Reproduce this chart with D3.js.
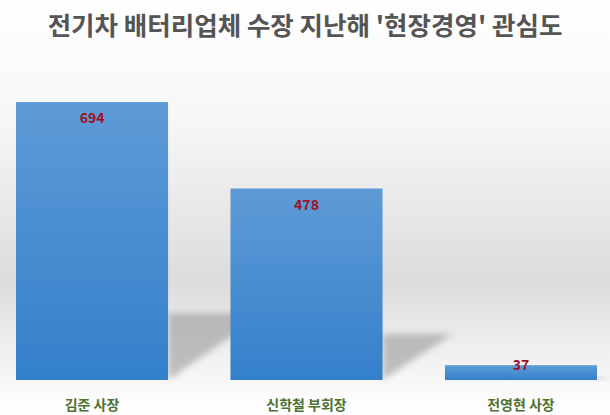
<!DOCTYPE html>
<html><head><meta charset="utf-8">
<script src="https://cdn.jsdelivr.net/npm/d3@7"></script>
<style>body{margin:0}svg{display:block}</style>
</head><body>
<svg width="610" height="415"></svg>
<script>
const title = "전기차 배터리업체 수장 지난해 '현장경영' 관심도";
const names = ["김준 사장", "신학철 부회장", "전영현 사장"];
const values = [694, 478, 37];

const width = 610, height = 415;
const base = 380;
const svg = d3.select("svg");
const defs = svg.append("defs");

// 배경 그라데이션
const bg = defs.append("linearGradient").attr("id", "bg").attr("x1", 0).attr("y1", 0).attr("x2", 0).attr("y2", 1);
bg.append("stop").attr("offset", "0%").attr("stop-color", "#ffffff");
bg.append("stop").attr("offset", "30%").attr("stop-color", "#f6f6f6");
bg.append("stop").attr("offset", "68%").attr("stop-color", "#dcdcdc");
bg.append("stop").attr("offset", "94%").attr("stop-color", "#fafafa");
bg.append("stop").attr("offset", "100%").attr("stop-color", "#ffffff");
svg.append("rect").attr("width", width).attr("height", height).attr("fill", "url(#bg)");

const bar = defs.append("linearGradient").attr("id", "bar").attr("x1", 0).attr("y1", 0).attr("x2", 0).attr("y2", 1);
bar.append("stop").attr("offset", "0%").attr("stop-color", "#5e9bd6");
bar.append("stop").attr("offset", "100%").attr("stop-color", "#3480cb");

defs.append("filter").attr("id", "blur").append("feGaussianBlur").attr("stdDeviation", 3);

const x = d3.scaleBand().domain(names).range([16, 597]).paddingInner(0.291).paddingOuter(0);
const y = d3.scaleLinear().domain([0, 694]).range([base, 102]);

// 그림자
svg.selectAll(".shadow").data(values).enter().append("polygon")
    .attr("fill", "#9a9a9a").attr("opacity", 0.6).attr("filter", "url(#blur)")
    .attr("points", (d, i) => {
        const x0 = x(names[i]) + x.bandwidth();
        const h = (base - y(d)) * 0.24;
        return `${x0},${base} ${x0},${base - h} ${x0 + h * 1.3 + 10},${base - h}`;
    });

svg.selectAll(".bar").data(values).enter().append("rect")
    .attr("x", (d, i) => x(names[i]))
    .attr("y", d => y(d))
    .attr("width", x.bandwidth())
    .attr("height", d => base - y(d))
    .attr("fill", "url(#bar)");

svg.selectAll(".val").data(values).enter().append("text")
    .attr("x", (d, i) => x(names[i]) + x.bandwidth() / 2)
    .attr("y", d => base - y(d) < 30 ? y(d) + 5 : y(d) + 21)
    .attr("text-anchor", "middle")
    .attr("font-family", "Noto Sans CJK KR").attr("font-weight", "bold").attr("font-size", 14)
    .attr("fill", "#a01020")
    .text(d => d);

svg.selectAll(".name").data(names).enter().append("text")
    .attr("x", d => x(d) + x.bandwidth() / 2)
    .attr("y", 410)
    .attr("text-anchor", "middle")
    .attr("font-family", "Noto Sans CJK KR").attr("font-weight", "bold").attr("font-size", 14)
    .attr("fill", "#4f7233")
    .text(d => d);

svg.append("text").attr("x", 305).attr("y", 35)
    .attr("text-anchor", "middle")
    .attr("font-family", "Noto Sans CJK KR").attr("font-weight", "bold").attr("font-size", 25.5)
    .attr("fill", "#555555")
    .text(title);
</script>
</body></html>
